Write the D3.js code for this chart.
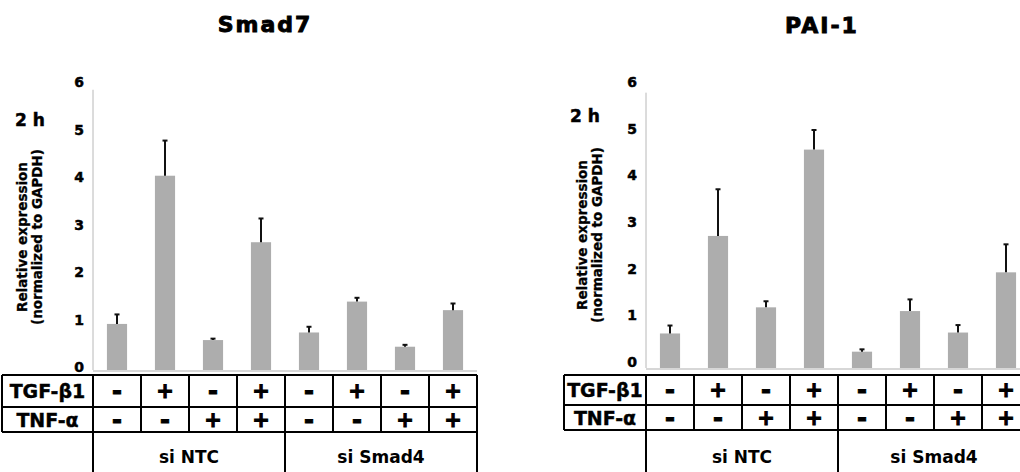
<!DOCTYPE html>
<html>
<head>
<meta charset="utf-8">
<script src="https://cdn.jsdelivr.net/npm/d3@7/dist/d3.min.js"></script>
<style>
  html, body { margin: 0; padding: 0; background: #fff; }
  svg { display: block; }
</style>
</head>
<body>
<svg id="chart" width="1020" height="472"></svg>
<script>
// ---------- data ----------
const conditions = [0, 1, 2, 3, 4, 5, 6, 7];
const tgfRow = ["-", "+", "-", "+", "-", "+", "-", "+"];
const tnfRow = ["-", "-", "+", "+", "-", "-", "+", "+"];
const rowLabels = ["TGF-\u03B21", "TNF-\u03B1"];
const groupLabels = ["si NTC", "si Smad4"];
const yTicks = [0, 1, 2, 3, 4, 5, 6];
const timeLabel = "2 h";
const yTitleLines = ["Relative expression", "(normalized to GAPDH)"];

const smad7Values = [0.97, 4.09, 0.63, 2.69, 0.79, 1.44, 0.49, 1.26];
const smad7Errors = [0.20, 0.74, 0.03, 0.50, 0.12, 0.08, 0.04, 0.14];
const pai1Values  = [0.74, 2.83, 1.30, 4.68, 0.35, 1.22, 0.76, 2.05];
const pai1Errors  = [0.17, 1.00, 0.13, 0.42, 0.05, 0.25, 0.16, 0.60];

// ---------- layout ----------
const panels = [
  { title: "Smad7", values: smad7Values, errors: smad7Errors,
    colRange: [93, 477], yRange: [370, 85], tickX: 79, tickDy: -3,
    titleX: 265, titleY: 32, timeX: 15, timeY: 126,
    yTitleX: [22, 37], yTitleY: 237,
    tableLeft: 2, tableTop: 375, row1: 407, row2: 432 },
  { title: "PAI-1", values: pai1Values, errors: pai1Errors,
    colRange: [646, 1030], yRange: [368, 88], tickX: 632, tickDy: -6,
    titleX: 822, titleY: 33, timeX: 570, timeY: 122,
    yTitleX: [582, 597], yTitleY: 235,
    tableLeft: 564, tableTop: 375, row1: 405, row2: 430 }
];

const svg = d3.select("#chart");
const WIDE = "'DejaVu Sans', sans-serif";
const heavy = (sel, w) => sel.attr("font-family", WIDE).attr("font-weight", "bold")
  .attr("fill", "#000").attr("stroke", w > 0 ? "#000" : "none").attr("stroke-width", w)
  .attr("paint-order", "stroke");

panels.forEach(p => {
  const g = svg.append("g");
  const x = d3.scaleBand().domain(conditions).range(p.colRange).padding(0);
  const y = d3.scaleLinear().domain([0, 6]).range(p.yRange);
  const bw = x.bandwidth() * 0.42;

  // title
  heavy(g.append("text").attr("x", p.titleX).attr("y", p.titleY)
    .attr("text-anchor", "middle").attr("font-size", 22)
    .attr("letter-spacing", 2).text(p.title), 0.9);

  // time label
  heavy(g.append("text").attr("x", p.timeX).attr("y", p.timeY)
    .attr("font-size", 17).text(timeLabel), 0.5);

  // y title
  yTitleLines.forEach((t, i) => {
    heavy(g.append("text")
      .attr("transform", `translate(${p.yTitleX[i]},${p.yTitleY}) rotate(-90)`)
      .attr("text-anchor", "middle").attr("dominant-baseline", "central")
      .attr("font-size", 13.5).text(t), 0.3);
  });

  // y axis line and baseline
  const x0 = p.colRange[0];
  g.append("line").attr("x1", x0).attr("x2", x0)
    .attr("y1", y(0)).attr("y2", y(5.9))
    .attr("stroke", "#b8b8b8").attr("stroke-width", 1);
  g.append("line").attr("x1", x0).attr("x2", p.colRange[1])
    .attr("y1", y(0) + 1).attr("y2", y(0) + 1)
    .attr("stroke", "#b0b0b0").attr("stroke-width", 1.2);

  // tick labels
  heavy(g.selectAll(".tick").data(yTicks).enter().append("text")
    .attr("x", p.tickX).attr("y", d => y(d) + p.tickDy)
    .attr("text-anchor", "middle").attr("dominant-baseline", "central")
    .attr("font-size", 14).text(d => d), 0.5);

  // bars
  g.selectAll(".bar").data(conditions).enter().append("rect")
    .attr("x", d => x(d) + x.bandwidth() / 2 - bw / 2)
    .attr("width", bw)
    .attr("y", d => y(p.values[d]))
    .attr("height", d => y(0) - y(p.values[d]))
    .attr("fill", "#adadad");

  // error bars
  const eg = g.selectAll(".err").data(conditions).enter().append("g");
  eg.append("line")
    .attr("x1", d => x(d) + x.bandwidth() / 2).attr("x2", d => x(d) + x.bandwidth() / 2)
    .attr("y1", d => y(p.values[d])).attr("y2", d => y(p.values[d] + p.errors[d]))
    .attr("stroke", "#111").attr("stroke-width", 2);
  eg.append("line")
    .attr("x1", d => x(d) + x.bandwidth() / 2 - 2.5).attr("x2", d => x(d) + x.bandwidth() / 2 + 2.5)
    .attr("y1", d => y(p.values[d] + p.errors[d])).attr("y2", d => y(p.values[d] + p.errors[d]))
    .attr("stroke", "#111").attr("stroke-width", 2);

  // ---------- table ----------
  const L = p.tableLeft, T = p.tableTop, R1 = p.row1, R2 = p.row2;
  const xEnd = p.colRange[1];
  const stroke = (sel) => sel.attr("stroke", "#000").attr("stroke-width", 2);

  [T, R1, R2].forEach(yy => {
    stroke(g.append("line").attr("x1", L).attr("x2", xEnd).attr("y1", yy).attr("y2", yy));
  });
  stroke(g.append("line").attr("x1", L).attr("x2", L).attr("y1", T).attr("y2", R2));
  conditions.forEach(d => {
    stroke(g.append("line").attr("x1", x(d)).attr("x2", x(d)).attr("y1", T).attr("y2", R2));
  });
  stroke(g.append("line").attr("x1", xEnd).attr("x2", xEnd).attr("y1", T).attr("y2", 472));
  [x(0), x(4)].forEach(xx => {
    stroke(g.append("line").attr("x1", xx).attr("x2", xx).attr("y1", R2).attr("y2", 472));
  });

  // row labels
  const labelCx = (L + x0) / 2;
  [[rowLabels[0], (T + R1) / 2], [rowLabels[1], (R1 + R2) / 2]].forEach(([t, cy]) => {
    heavy(g.append("text").attr("x", labelCx).attr("y", cy)
      .attr("text-anchor", "middle").attr("dominant-baseline", "central")
      .attr("font-size", 19).text(t), 0.4);
  });

  // signs
  [[tgfRow, (T + R1) / 2], [tnfRow, (R1 + R2) / 2]].forEach(([row, cy]) => {
    heavy(g.selectAll(null).data(conditions).enter().append("text")
      .attr("x", d => x(d) + x.bandwidth() / 2).attr("y", cy)
      .attr("text-anchor", "middle").attr("dominant-baseline", "central")
      .attr("font-size", d => row[d] === "-" ? 24 : 21).text(d => row[d]), 1);
  });

  // group labels
  groupLabels.forEach((t, i) => {
    const a = x(i * 4), b = i === 0 ? x(4) : xEnd;
    heavy(g.append("text").attr("x", (a + b) / 2).attr("y", 457)
      .attr("text-anchor", "middle").attr("dominant-baseline", "central")
      .attr("font-size", 17).text(t), 0);
  });
});
</script>
</body>
</html>
